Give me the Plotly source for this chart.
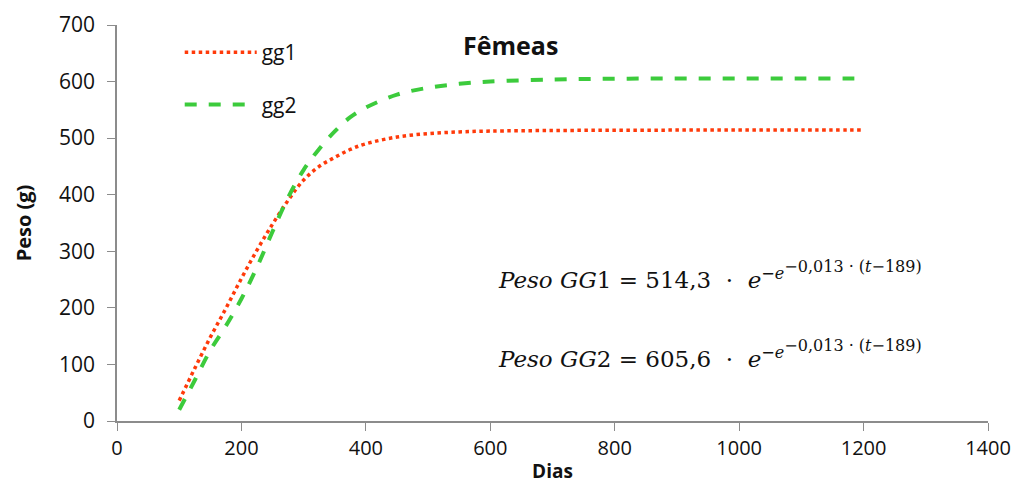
import plotly.graph_objects as go

dias = [100, 125, 150, 175, 200, 225, 250, 275, 300, 325, 350, 375, 400,
        450, 500, 550, 600, 700, 800, 900, 1000, 1100, 1200]
gg1 = [36, 93, 148, 199, 252, 302, 348, 390, 426, 450, 466, 480, 490,
       502, 508, 511, 512.5, 513.5, 514, 514.2, 514.3, 514.3, 514.3]
gg2 = [20, 72, 125, 168, 216, 272, 335, 395, 444, 481, 512, 537, 554,
       577, 589, 596, 600, 603.5, 605, 605.4, 605.5, 605.6, 605.6]

x_ticks = [0, 200, 400, 600, 800, 1000, 1200, 1400]
y_ticks = [0, 100, 200, 300, 400, 500, 600, 700]

title_text = "Fêmeas"
x_title = "Dias"
y_title = "Peso (g)"
inner = '<span style="font-size:16px">−0,013 · (<i>t</i>−189)</span>'
eq1 = "<i>Peso GG</i>1 = 514,3  ·  <i>e</i><sup>−<i>e</i><sup>" + inner + "</sup></sup>"
eq2 = "<i>Peso GG</i>2 = 605,6  ·  <i>e</i><sup>−<i>e</i><sup>" + inner + "</sup></sup>"

font_main = "Open Sans, Noto Sans, sans-serif"

fig = go.Figure()
fig.add_trace(go.Scatter(x=dias, y=gg1, mode="lines", name="gg1", legendgroup="a",
                         line=dict(color="#FF3A0A", width=3.5, dash="dot", shape="spline")))
fig.add_trace(go.Scatter(x=dias, y=gg2, mode="lines", name="gg2", legendgroup="b",
                         line=dict(color="#3CCB3C", width=4, dash="dash", shape="spline")))

axis_common = dict(showgrid=False, zeroline=False, showline=True, linecolor="#8c8c8c",
                   linewidth=1.5, ticks="outside", ticklen=8, tickcolor="#8c8c8c",
                   automargin=False)

fig.update_layout(
    width=1018, height=484,
    margin=dict(l=117, r=30, t=25, b=63),
    paper_bgcolor="white", plot_bgcolor="white",
    showlegend=True,
    legend=dict(x=0.072, y=0.982, xanchor="left", yanchor="top", bgcolor="rgba(0,0,0,0)",
                font=dict(family=font_main, size=21, color="#111"),
                itemwidth=72, tracegroupgap=22, traceorder="grouped"),
    xaxis=dict(range=[0, 1400], tickvals=x_ticks, ticktext=[str(v) for v in x_ticks],
               tickfont=dict(family=font_main, size=20, color="#111"),
               ticklabelstandoff=0,
               title=dict(text="<b>" + x_title + "</b>",
                          font=dict(family=font_main, size=19, color="#111"),
                          standoff=6),
               **axis_common),
    yaxis=dict(range=[0, 700], tickvals=y_ticks, ticktext=[str(v) for v in y_ticks],
               tickfont=dict(family=font_main, size=21, color="#111"),
               ticklabelstandoff=8,
               title=dict(text="<b>" + y_title + "</b>",
                          font=dict(family=font_main, size=20, color="#111"),
                          standoff=22),
               **axis_common),
)

fig.add_annotation(text="<b>" + title_text + "</b>", xref="paper", yref="paper",
                   x=0.452, y=0.95, xanchor="center", yanchor="middle", showarrow=False,
                   font=dict(family=font_main, size=25, color="#111"))
fig.add_annotation(text=eq1, xref="paper", yref="paper", x=0.435, y=0.368,
                   xanchor="left", yanchor="middle", showarrow=False,
                   font=dict(family="DejaVu Serif, Liberation Serif, serif", size=23, color="#111"))
fig.add_annotation(text=eq2, xref="paper", yref="paper", x=0.435, y=0.17,
                   xanchor="left", yanchor="middle", showarrow=False,
                   font=dict(family="DejaVu Serif, Liberation Serif, serif", size=23, color="#111"))

fig.write_html("out.html")
